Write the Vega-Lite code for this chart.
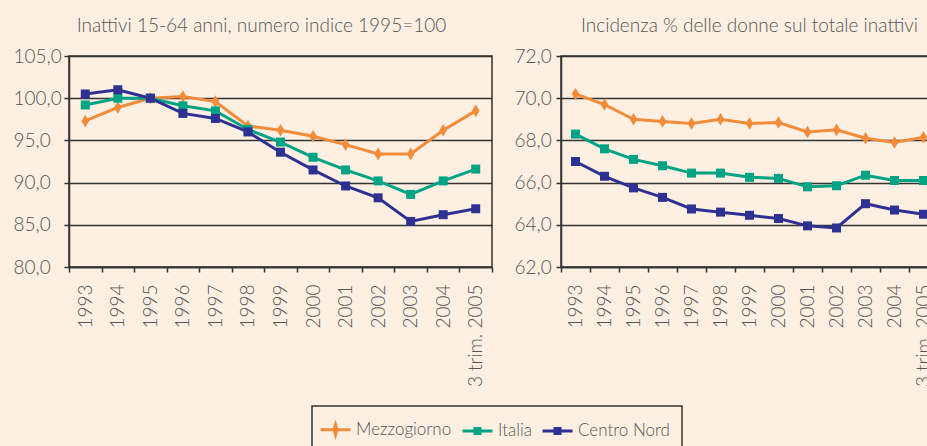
{
  "$schema": "https://vega.github.io/schema/vega-lite/v6.json",
  "background": "#fdf0e2",
  "padding": {"left": 12, "top": 16, "right": 0, "bottom": 0},
  "config": {
    "font": "Lato",
    "view": {"stroke": "#333333", "strokeWidth": 1.5},
    "axis": {"labelFont": "Lato", "labelFontSize": 19, "labelFontWeight": 300, "labelColor": "#555555", "domainColor": "#333333", "tickColor": "#333333", "gridColor": "#333333", "domainWidth": 1.5, "tickWidth": 1.5, "gridWidth": 1.5, "gridOpacity": 1, "title": null},
    "title": {"font": "Lato", "fontSize": 19, "color": "#555555", "fontWeight": 300, "anchor": "middle", "baseline": "alphabetic", "offset": 11},
    "legend": {"orient": "none", "legendX": 243, "legendY": 350, "direction": "horizontal", "strokeColor": "#333333", "strokeWidth": 1.5, "fillColor": "#fdf0e2", "padding": 12, "symbolSize": 400, "labelOffset": 9, "columnPadding": 4, "labelFontSize": 17, "labelFontWeight": 300, "labelFont": "Lato", "labelColor": "#555555", "title": null, "symbolStrokeWidth": 3}
  },
  "datasets": {
    "sinistra": [
      {"anno": "1993", "serie": "Mezzogiorno", "valore": 97.3},
      {"anno": "1994", "serie": "Mezzogiorno", "valore": 98.9},
      {"anno": "1995", "serie": "Mezzogiorno", "valore": 100.0},
      {"anno": "1996", "serie": "Mezzogiorno", "valore": 100.2},
      {"anno": "1997", "serie": "Mezzogiorno", "valore": 99.6},
      {"anno": "1998", "serie": "Mezzogiorno", "valore": 96.7},
      {"anno": "1999", "serie": "Mezzogiorno", "valore": 96.2},
      {"anno": "2000", "serie": "Mezzogiorno", "valore": 95.5},
      {"anno": "2001", "serie": "Mezzogiorno", "valore": 94.5},
      {"anno": "2002", "serie": "Mezzogiorno", "valore": 93.4},
      {"anno": "2003", "serie": "Mezzogiorno", "valore": 93.4},
      {"anno": "2004", "serie": "Mezzogiorno", "valore": 96.2},
      {"anno": "3 trim. 2005", "serie": "Mezzogiorno", "valore": 98.5},
      {"anno": "1993", "serie": "Italia", "valore": 99.2},
      {"anno": "1994", "serie": "Italia", "valore": 100.0},
      {"anno": "1995", "serie": "Italia", "valore": 100.0},
      {"anno": "1996", "serie": "Italia", "valore": 99.1},
      {"anno": "1997", "serie": "Italia", "valore": 98.5},
      {"anno": "1998", "serie": "Italia", "valore": 96.3},
      {"anno": "1999", "serie": "Italia", "valore": 94.8},
      {"anno": "2000", "serie": "Italia", "valore": 93.0},
      {"anno": "2001", "serie": "Italia", "valore": 91.5},
      {"anno": "2002", "serie": "Italia", "valore": 90.2},
      {"anno": "2003", "serie": "Italia", "valore": 88.6},
      {"anno": "2004", "serie": "Italia", "valore": 90.2},
      {"anno": "3 trim. 2005", "serie": "Italia", "valore": 91.6},
      {"anno": "1993", "serie": "Centro Nord", "valore": 100.5},
      {"anno": "1994", "serie": "Centro Nord", "valore": 101.0},
      {"anno": "1995", "serie": "Centro Nord", "valore": 100.0},
      {"anno": "1996", "serie": "Centro Nord", "valore": 98.2},
      {"anno": "1997", "serie": "Centro Nord", "valore": 97.6},
      {"anno": "1998", "serie": "Centro Nord", "valore": 96.0},
      {"anno": "1999", "serie": "Centro Nord", "valore": 93.6},
      {"anno": "2000", "serie": "Centro Nord", "valore": 91.5},
      {"anno": "2001", "serie": "Centro Nord", "valore": 89.6},
      {"anno": "2002", "serie": "Centro Nord", "valore": 88.2},
      {"anno": "2003", "serie": "Centro Nord", "valore": 85.4},
      {"anno": "2004", "serie": "Centro Nord", "valore": 86.2},
      {"anno": "3 trim. 2005", "serie": "Centro Nord", "valore": 86.9}
    ],
    "destra": [
      {"anno": "1993", "serie": "Mezzogiorno", "valore": 70.2},
      {"anno": "1994", "serie": "Mezzogiorno", "valore": 69.7},
      {"anno": "1995", "serie": "Mezzogiorno", "valore": 69.0},
      {"anno": "1996", "serie": "Mezzogiorno", "valore": 68.9},
      {"anno": "1997", "serie": "Mezzogiorno", "valore": 68.8},
      {"anno": "1998", "serie": "Mezzogiorno", "valore": 69.0},
      {"anno": "1999", "serie": "Mezzogiorno", "valore": 68.8},
      {"anno": "2000", "serie": "Mezzogiorno", "valore": 68.85},
      {"anno": "2001", "serie": "Mezzogiorno", "valore": 68.4},
      {"anno": "2002", "serie": "Mezzogiorno", "valore": 68.5},
      {"anno": "2003", "serie": "Mezzogiorno", "valore": 68.1},
      {"anno": "2004", "serie": "Mezzogiorno", "valore": 67.9},
      {"anno": "3 trim. 2005", "serie": "Mezzogiorno", "valore": 68.15},
      {"anno": "1993", "serie": "Italia", "valore": 68.3},
      {"anno": "1994", "serie": "Italia", "valore": 67.6},
      {"anno": "1995", "serie": "Italia", "valore": 67.1},
      {"anno": "1996", "serie": "Italia", "valore": 66.8},
      {"anno": "1997", "serie": "Italia", "valore": 66.45},
      {"anno": "1998", "serie": "Italia", "valore": 66.45},
      {"anno": "1999", "serie": "Italia", "valore": 66.25},
      {"anno": "2000", "serie": "Italia", "valore": 66.2},
      {"anno": "2001", "serie": "Italia", "valore": 65.8},
      {"anno": "2002", "serie": "Italia", "valore": 65.85},
      {"anno": "2003", "serie": "Italia", "valore": 66.35},
      {"anno": "2004", "serie": "Italia", "valore": 66.1},
      {"anno": "3 trim. 2005", "serie": "Italia", "valore": 66.1},
      {"anno": "1993", "serie": "Centro Nord", "valore": 67.0},
      {"anno": "1994", "serie": "Centro Nord", "valore": 66.3},
      {"anno": "1995", "serie": "Centro Nord", "valore": 65.75},
      {"anno": "1996", "serie": "Centro Nord", "valore": 65.3},
      {"anno": "1997", "serie": "Centro Nord", "valore": 64.75},
      {"anno": "1998", "serie": "Centro Nord", "valore": 64.6},
      {"anno": "1999", "serie": "Centro Nord", "valore": 64.45},
      {"anno": "2000", "serie": "Centro Nord", "valore": 64.3},
      {"anno": "2001", "serie": "Centro Nord", "valore": 63.95},
      {"anno": "2002", "serie": "Centro Nord", "valore": 63.85},
      {"anno": "2003", "serie": "Centro Nord", "valore": 65.0},
      {"anno": "2004", "serie": "Centro Nord", "valore": 64.7},
      {"anno": "3 trim. 2005", "serie": "Centro Nord", "valore": 64.5}
    ]
  },
  "spacing": 19,
  "hconcat": [
    {
      "title": {"text": "Inattivi 15-64 anni, numero indice 1995=100", "dx": -19},
      "width": 423,
      "height": 211,
      "data": {"name": "sinistra"},
      "encoding": {
        "x": {"field": "anno", "type": "ordinal", "sort": null, "scale": {"paddingInner": 0, "paddingOuter": 0}, "axis": {"labelAngle": -90, "tickBand": "extent", "tickSize": 5, "labelPadding": 12, "grid": false}},
        "y": {"field": "valore", "type": "quantitative", "scale": {"domain": [80, 105], "nice": false, "zero": false}, "axis": {"values": [80, 85, 90, 95, 100, 105], "labelExpr": "replace(format(datum.value, '.1f'), '.', ',')", "labelAlign": "left", "labelPadding": 51, "tickSize": 5, "grid": true}},
        "color": {"field": "serie", "type": "nominal", "scale": {"domain": ["Mezzogiorno", "Italia", "Centro Nord"], "range": ["#f28c3a", "#00a383", "#2e3192"]},
          "legend": {"symbolType": "M-1.5,0H1.5M-0.25,-0.25H0.25V0.25H-0.25Z", "encode": {"symbols": {"update": {"shape": {"signal": "datum.value === 'Mezzogiorno' ? 'M-1.5,0H1.5M0,-0.5L0.15,0L0,0.5L-0.15,0Z' : 'M-1.5,0H1.5M-0.25,-0.25H0.25V0.25H-0.25Z'"}, "fill": {"scale": "color", "field": "value"}, "stroke": {"scale": "color", "field": "value"}, "strokeWidth": {"value": 3}, "opacity": {"value": 1}}}}}}
      },
      "layer": [
        {"mark": {"type": "line", "strokeWidth": 3}},
        {"transform": [{"filter": "datum.serie === 'Mezzogiorno'"}], "mark": {"type": "point", "filled": true, "size": 81, "opacity": 1, "shape": "M0,-1.4L0.85,0L0,1.4L-0.85,0Z"}},
        {"transform": [{"filter": "datum.serie !== 'Mezzogiorno'"}], "mark": {"type": "point", "filled": true, "size": 81, "opacity": 1, "shape": "square"}}
      ]
    },
    {
      "title": {"text": "Incidenza % delle donne sul totale inattivi"},
      "width": 377,
      "height": 211,
      "data": {"name": "destra"},
      "encoding": {
        "x": {"field": "anno", "type": "ordinal", "sort": null, "scale": {"paddingInner": 0, "paddingOuter": 0}, "axis": {"labelAngle": -90, "tickBand": "extent", "tickSize": 5, "labelPadding": 12, "grid": false}},
        "y": {"field": "valore", "type": "quantitative", "scale": {"domain": [62, 72], "nice": false, "zero": false}, "axis": {"values": [62, 64, 66, 68, 70, 72], "labelExpr": "replace(format(datum.value, '.1f'), '.', ',')", "labelAlign": "left", "labelPadding": 42, "tickSize": 5, "grid": true}},
        "color": {"field": "serie", "type": "nominal", "scale": {"domain": ["Mezzogiorno", "Italia", "Centro Nord"], "range": ["#f28c3a", "#00a383", "#2e3192"]},
          "legend": {"symbolType": "M-1.5,0H1.5M-0.25,-0.25H0.25V0.25H-0.25Z", "encode": {"symbols": {"update": {"shape": {"signal": "datum.value === 'Mezzogiorno' ? 'M-1.5,0H1.5M0,-0.5L0.15,0L0,0.5L-0.15,0Z' : 'M-1.5,0H1.5M-0.25,-0.25H0.25V0.25H-0.25Z'"}, "fill": {"scale": "color", "field": "value"}, "stroke": {"scale": "color", "field": "value"}, "strokeWidth": {"value": 3}, "opacity": {"value": 1}}}}}}
      },
      "layer": [
        {"mark": {"type": "line", "strokeWidth": 3}},
        {"transform": [{"filter": "datum.serie === 'Mezzogiorno'"}], "mark": {"type": "point", "filled": true, "size": 81, "opacity": 1, "shape": "M0,-1.4L0.85,0L0,1.4L-0.85,0Z"}},
        {"transform": [{"filter": "datum.serie !== 'Mezzogiorno'"}], "mark": {"type": "point", "filled": true, "size": 81, "opacity": 1, "shape": "square"}}
      ]
    }
  ]
}
